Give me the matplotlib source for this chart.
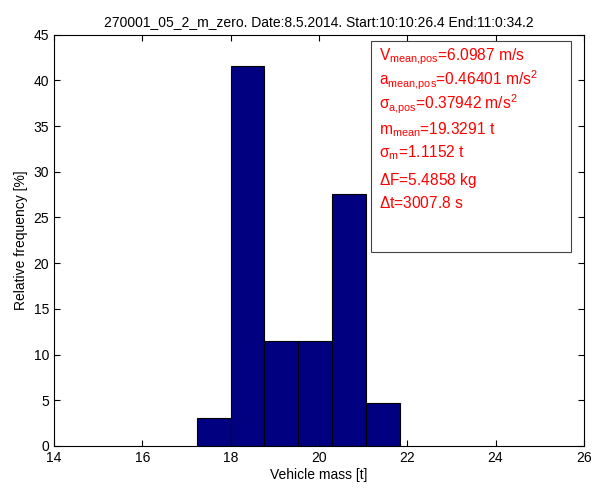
import matplotlib
matplotlib.use("Agg")
import matplotlib.pyplot as plt
import numpy as np
from matplotlib.patches import Rectangle

plt.rcParams["font.family"] = ["Liberation Sans", "DejaVu Sans"]
plt.rcParams["mathtext.fontset"] = "custom"
plt.rcParams["mathtext.rm"] = "Liberation Sans"
plt.rcParams["mathtext.it"] = "Liberation Sans"
plt.rcParams["mathtext.sf"] = "Liberation Sans"

# histogram bins (vehicle mass, t) and relative frequency (%)
bin_edges = [17.235, 18.0, 18.767, 19.534, 20.301, 21.068, 21.835]
rel_freq = [3.1, 41.6, 11.5, 11.5, 27.6, 4.7]

title = "270001_05_2_m_zero. Date:8.5.2014. Start:10:10:26.4 End:11:0:34.2"
stats_lines = [
    r"V$_{\rm mean{,}pos}$=6.0987 m/s",
    r"a$_{\rm mean{,}pos}$=0.46401 m/s$^{\rm 2}$",
    r"$\sigma_{\rm a{,}pos}$=0.37942 m/s$^{\rm 2}$",
    r"m$_{\rm mean}$=19.3291 t",
    r"$\sigma_{\rm m}$=1.1152 t",
    r"$\Delta$F=5.4858 kg",
    r"$\Delta$t=3007.8 s",
]

fig = plt.figure(figsize=(6.0, 4.92), dpi=100)
ax = fig.add_axes([0.09, 0.0935, 0.883, 0.836])

widths = np.diff(bin_edges)
ax.bar(bin_edges[:-1], rel_freq, width=widths, align="edge",
       color="#000080", edgecolor="black", linewidth=0.8)

ax.set_xlim(14, 26)
ax.set_ylim(0, 45)
ax.set_xticks(np.arange(14, 27, 2))
ax.set_yticks(np.arange(0, 46, 5))
ax.tick_params(direction="in", top=True, right=True, labelsize=10, length=4.5)
for s in ax.spines.values():
    s.set_linewidth(0.8)

ax.set_xlabel("Vehicle mass [t]", fontsize=10, labelpad=2)
ax.set_ylabel("Relative frequency [%]", fontsize=10, labelpad=4)
ax.set_title(title, fontsize=10, pad=6)

# stats box
ax.add_patch(Rectangle((0.598, 0.472), 0.377, 0.513, transform=ax.transAxes,
                       facecolor="white", edgecolor="#444444", linewidth=0.8,
                       zorder=3))
line_y = [0.946, 0.889, 0.830, 0.770, 0.712, 0.645, 0.592]
for txt, yy in zip(stats_lines, line_y):
    ax.text(0.614, yy, txt, transform=ax.transAxes, color="red",
            fontsize=11.2, va="center", ha="left", zorder=4)

fig.savefig("out.png", dpi=100)
